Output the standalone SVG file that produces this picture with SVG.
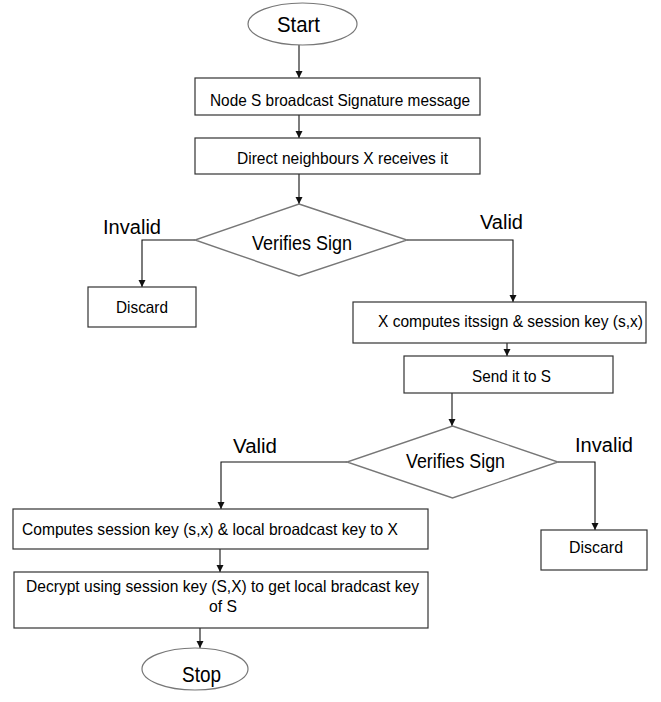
<svg xmlns="http://www.w3.org/2000/svg" width="661" height="702" viewBox="0 0 661 702">
<style>
text{font-family:"Liberation Sans",Arial,sans-serif;fill:#000;}
.t{font-size:16.5px;}
.d{font-size:20px;}
.l{font-size:20px;}
.e{font-size:22px;}
.box{fill:#fff;stroke:#333;stroke-width:1.2;}
.dia{fill:#fff;stroke:#777;stroke-width:1.4;}
.ell{fill:#fff;stroke:#777;stroke-width:1.2;}
.c{fill:none;stroke:#111;stroke-width:1.1;marker-end:url(#ah);}
</style>
<defs>
<marker id="ah" markerUnits="userSpaceOnUse" markerWidth="8" markerHeight="8" refX="7" refY="3.5" orient="auto">
<path d="M0,0 L7,3.5 L0,7 Z" fill="#111"/>
</marker>
</defs>
<rect width="661" height="702" fill="#fff"/>
<g id="connectors">
<path class="c" d="M299,45 V78"/>
<path class="c" d="M299,115 V138"/>
<path class="c" d="M299,174 V204"/>
<path class="c" d="M195,240 H142 V287"/>
<path class="c" d="M407,240 H513 V302"/>
<path class="c" d="M507,343 V356"/>
<path class="c" d="M452,393 V426"/>
<path class="c" d="M347,462 H221 V509"/>
<path class="c" d="M558,462 H595 V530"/>
<path class="c" d="M220,549 V572"/>
<path class="c" d="M200,628 V648"/>
</g>
<g id="start">
<ellipse class="ell" cx="302.5" cy="24" rx="54.5" ry="21"/>
<text class="e" x="277" y="32" textLength="43" lengthAdjust="spacingAndGlyphs">Start</text>
</g>
<g id="broadcast">
<rect class="box" x="195" y="78" width="285" height="37"/>
<text class="t" x="210" y="106" textLength="260" lengthAdjust="spacingAndGlyphs">Node S broadcast Signature message</text>
</g>
<g id="receive">
<rect class="box" x="195" y="138" width="285" height="36"/>
<text class="t" x="237" y="164" textLength="211" lengthAdjust="spacingAndGlyphs">Direct neighbours X receives it</text>
</g>
<g id="verify1">
<polygon class="dia" points="299,204 407,240 299,276 195,240"/>
<text class="d" x="252" y="250" textLength="100" lengthAdjust="spacingAndGlyphs">Verifies Sign</text>
<text class="l" x="103" y="234" textLength="58" lengthAdjust="spacingAndGlyphs">Invalid</text>
<text class="l" x="480" y="229" textLength="43" lengthAdjust="spacingAndGlyphs">Valid</text>
</g>
<g id="discard1">
<rect class="box" x="88" y="287" width="108" height="40"/>
<text class="t" x="116" y="313" textLength="52" lengthAdjust="spacingAndGlyphs">Discard</text>
</g>
<g id="computes-sign">
<rect class="box" x="353" y="302" width="293" height="41"/>
<text class="t" x="378" y="327" textLength="265" lengthAdjust="spacingAndGlyphs">X computes itssign &amp; session key (s,x)</text>
</g>
<g id="send">
<rect class="box" x="404" y="356" width="209" height="37"/>
<text class="t" x="472" y="382" textLength="79" lengthAdjust="spacingAndGlyphs">Send it to S</text>
</g>
<g id="verify2">
<polygon class="dia" points="452.5,426 558,462 452.5,498 347,462"/>
<text class="d" x="406" y="468" textLength="99" lengthAdjust="spacingAndGlyphs">Verifies Sign</text>
<text class="l" x="233" y="453" textLength="44" lengthAdjust="spacingAndGlyphs">Valid</text>
<text class="l" x="575" y="452" textLength="58" lengthAdjust="spacingAndGlyphs">Invalid</text>
</g>
<g id="discard2">
<rect class="box" x="541" y="530" width="106" height="40"/>
<text class="t" x="569" y="553" textLength="54" lengthAdjust="spacingAndGlyphs">Discard</text>
</g>
<g id="computes-key">
<rect class="box" x="13" y="509" width="415" height="40"/>
<text class="t" x="22" y="535" textLength="376" lengthAdjust="spacingAndGlyphs">Computes session key (s,x) &amp; local broadcast key to X</text>
</g>
<g id="decrypt">
<rect class="box" x="14" y="572" width="414" height="56"/>
<text class="t" x="26" y="592" textLength="393" lengthAdjust="spacingAndGlyphs">Decrypt using session key (S,X) to get local bradcast key</text>
<text class="t" x="209" y="612" textLength="28" lengthAdjust="spacingAndGlyphs">of S</text>
</g>
<g id="stop">
<ellipse class="ell" cx="195" cy="669" rx="53" ry="21"/>
<text class="e" x="182" y="682" textLength="39" lengthAdjust="spacingAndGlyphs">Stop</text>
</g>
</svg>
